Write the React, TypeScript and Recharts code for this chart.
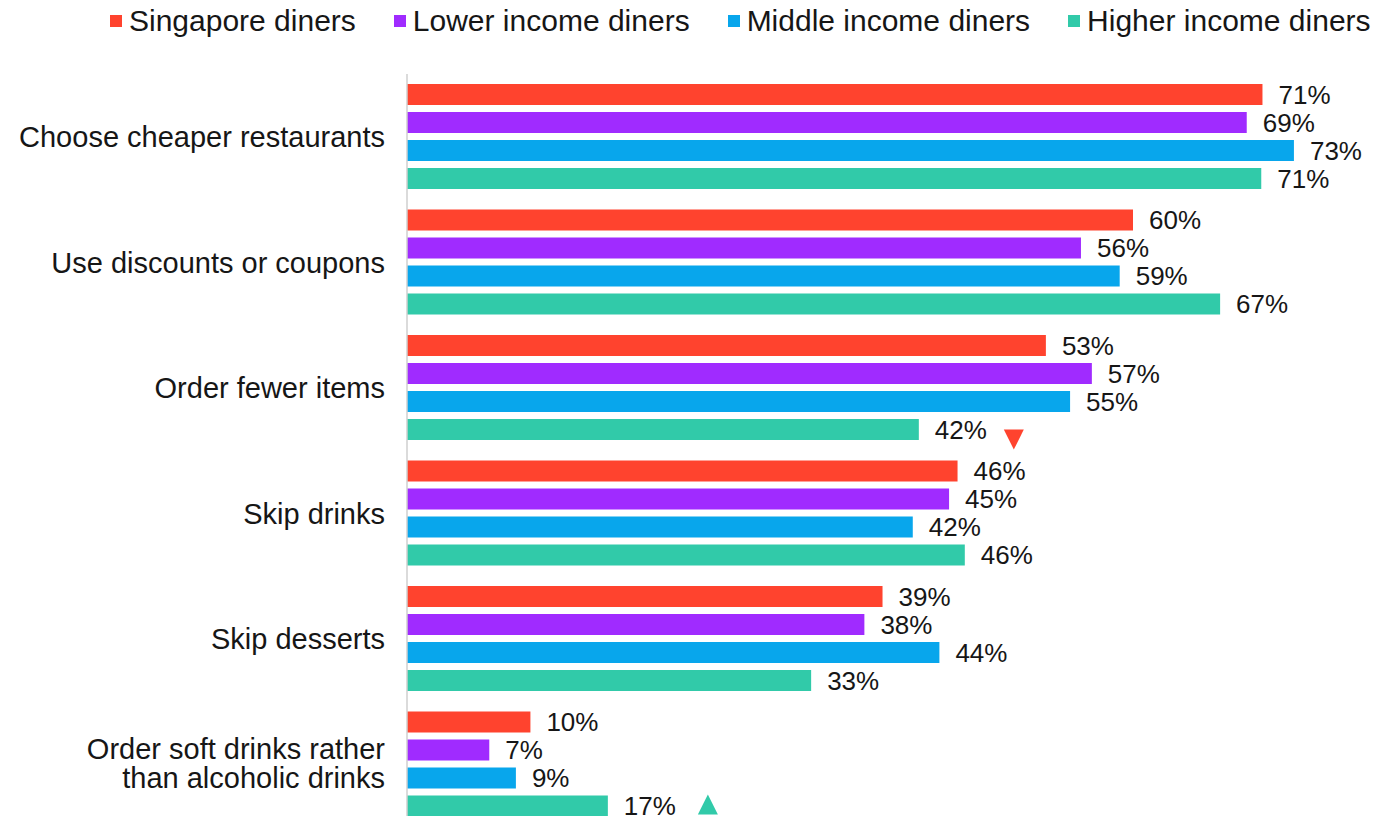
import React from 'react';
import { BarChart, Bar, XAxis, YAxis, LabelList } from 'recharts';

const categories = [
  'Choose cheaper restaurants',
  'Use discounts or coupons',
  'Order fewer items',
  'Skip drinks',
  'Skip desserts',
  'Order soft drinks rather\nthan alcoholic drinks',
];
const singaporeDiners = [70.7, 60.0, 52.8, 45.5, 39.3, 10.2];
const lowerIncome = [69.4, 55.7, 56.6, 44.8, 37.8, 6.8];
const middleIncome = [73.3, 58.9, 54.8, 41.8, 44.0, 9.0];
const higherIncome = [70.6, 67.2, 42.3, 46.1, 33.4, 16.6];
const higherIncomeMarks = ['', '', 'down', '', '', 'up'];

const seriesNames = ['Singapore diners', 'Lower income diners', 'Middle income diners', 'Higher income diners'];
const seriesKeys = ['sg', 'low', 'mid', 'high'];
const seriesColors = ['#FF432E', '#A02BFF', '#08A6EC', '#31CAA9'];
const axisMax = 80;

const FONT = '"Liberation Sans", Arial, sans-serif';
const TEXT = '#161616';

const data = categories.map((c, i) => ({
  category: c,
  sg: singaporeDiners[i],
  low: lowerIncome[i],
  mid: middleIncome[i],
  high: higherIncome[i],
}));

const makeLabel = (marks?: string[]) => (props: any) => {
  const vb = props.viewBox && props.viewBox.width !== undefined ? props.viewBox : props;
  const x = Number(vb.x ?? props.x);
  const y = Number(vb.y ?? props.y);
  const w = Number(vb.width ?? props.width);
  const h = Number(vb.height ?? props.height);
  const xe = x + w;
  const cy = y + h / 2;
  const idx = props.index;
  const mark = marks && idx !== undefined ? marks[idx] : '';
  return (
    <g>
      <text x={xe + 16} y={cy} dy="0.36em" fontSize={26} fill={TEXT} fontFamily={FONT}>
        {Math.round(Number(props.value))}%
      </text>
      {mark === 'down' && (
        <path d={`M${xe + 85},${cy} L${xe + 105},${cy} L${xe + 95},${cy + 20} Z`} fill={seriesColors[0]} />
      )}
      {mark === 'up' && (
        <path d={`M${xe + 90},${cy + 8.5} L${xe + 110},${cy + 8.5} L${xe + 100},${cy - 11.5} Z`} fill={seriesColors[3]} />
      )}
    </g>
  );
};

const CatTick = (props: any) => {
  const { x, y, payload } = props;
  const lines = String(payload.value).split('\n');
  const lh = 29;
  const start = lines.length > 1 ? -(lines.length - 1) * lh / 2 - 1.5 : 0;
  return (
    <g>
      <text textAnchor="end" fontSize={29} fill={TEXT} fontFamily={FONT}>
        {lines.map((l, i) => (
          <tspan key={i} x={x} y={y + start + i * lh} dy="0.36em">{l}</tspan>
        ))}
      </text>
    </g>
  );
};

export default function App() {
  return (
    <div style={{ position: 'fixed', left: 0, top: 0, width: 1386, height: 816, overflow: 'hidden', background: '#fff' }}>
      <div
        style={{
          position: 'absolute', left: 110, top: 4, display: 'flex', alignItems: 'center',
          fontFamily: FONT, fontSize: 30, color: TEXT, whiteSpace: 'nowrap',
        }}
      >
        {seriesNames.map((n, i) => (
          <div key={n} style={{ display: 'flex', alignItems: 'center', marginRight: 38 }}>
            <span style={{ display: 'inline-block', width: 12, height: 12, background: seriesColors[i], marginRight: 7 }} />
            <span>{n}</span>
          </div>
        ))}
      </div>
      <BarChart
        width={1386}
        height={840}
        data={data}
        layout="vertical"
        margin={{ top: 74, right: 11, bottom: 13, left: 0 }}
        barSize={21}
        barGap={7}
      >
        <XAxis type="number" domain={[0, axisMax]} hide />
        <YAxis
          type="category"
          dataKey="category"
          width={407}
          axisLine={{ stroke: '#cfcfcf', strokeWidth: 1.5 }}
          tickLine={false}
          tickSize={0}
          tickMargin={22}
          tick={<CatTick />}
          interval={0}
        />
        {seriesKeys.map((k, i) => (
          <Bar key={k} dataKey={k} name={seriesNames[i]} fill={seriesColors[i]} isAnimationActive={false}>
            <LabelList dataKey={k} content={makeLabel(k === 'high' ? higherIncomeMarks : undefined)} />
          </Bar>
        ))}
      </BarChart>
    </div>
  );
}
